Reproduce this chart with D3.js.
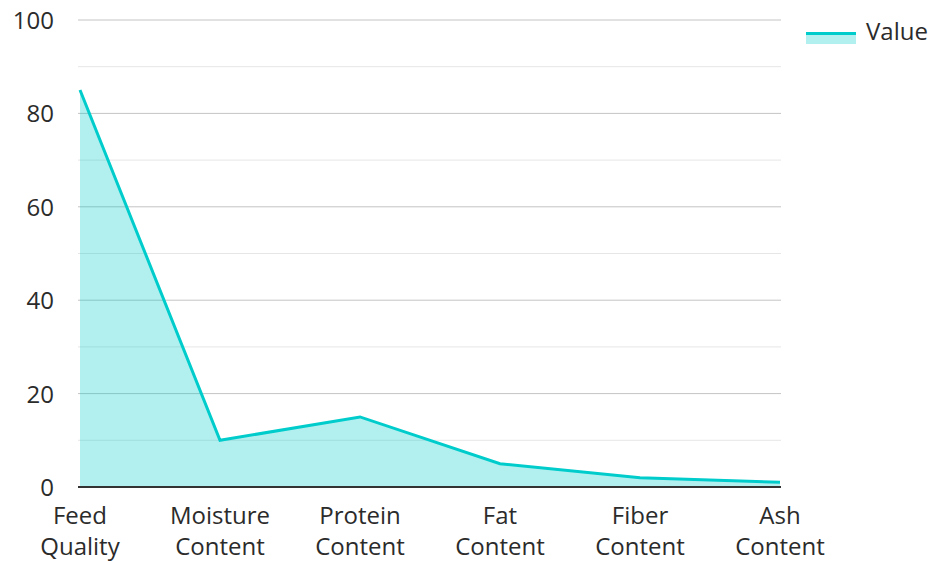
<!DOCTYPE html>
<meta charset="utf-8">
<style>
body { margin: 0; background: #fff; }
svg text { font-family: 'Open Sans', 'Noto Sans', sans-serif; fill: #2b2b2b; }
.axis .domain { display: none; }
.axis line { display: none; }
</style>
<body>
<script src="https://cdn.jsdelivr.net/npm/d3@7"></script>
<script>
var categories = [['Feed', 'Quality'], ['Moisture', 'Content'], ['Protein', 'Content'], ['Fat', 'Content'], ['Fiber', 'Content'], ['Ash', 'Content']]
var values = [85, 10, 15, 5, 2, 1]
var yTicks = [0, 20, 40, 60, 80, 100]
var seriesName = 'Value'

var W = 931, H = 561
var x0 = 80, x1 = 780, yTop = 20, yBot = 487
var fs = '24px'

var svg = d3.select('body').append('svg')
    .attr('width', W).attr('height', H)

var x = d3.scalePoint()
    .domain(d3.range(categories.length))
    .range([x0, x1])

var y = d3.scaleLinear()
    .domain([0, 100])
    .range([yBot, yTop])

// minor grid
svg.append('g').selectAll('line')
    .data(d3.range(10, 100, 20))
    .join('line')
    .attr('x1', x0 - 2).attr('x2', x1 + 1)
    .attr('y1', function (d) { return y(d) }).attr('y2', function (d) { return y(d) })
    .attr('stroke', '#e6e6e6').attr('stroke-width', 1)

// major grid
svg.append('g').selectAll('line')
    .data(yTicks.filter(function (d) { return d > 0 }))
    .join('line')
    .attr('x1', x0 - 2).attr('x2', x1 + 1)
    .attr('y1', function (d) { return y(d) }).attr('y2', function (d) { return y(d) })
    .attr('stroke', '#c4c4c4').attr('stroke-width', 1)

var area = d3.area()
    .x(function (d, i) { return x(i) })
    .y0(y(0))
    .y1(function (d) { return y(d) })

var line = d3.line()
    .x(function (d, i) { return x(i) })
    .y(function (d) { return y(d) })

svg.append('path')
    .datum(values)
    .attr('d', area)
    .attr('fill', '#00cccc')
    .attr('fill-opacity', 0.3)

svg.append('path')
    .datum(values)
    .attr('d', line)
    .attr('fill', 'none')
    .attr('stroke', '#00cccc')
    .attr('stroke-width', 3)

// baseline
svg.append('line')
    .attr('x1', x0 - 2).attr('x2', x1 + 1)
    .attr('y1', y(0)).attr('y2', y(0))
    .attr('stroke', '#333').attr('stroke-width', 2)

// y axis
var gy = svg.append('g')
    .attr('class', 'axis')
    .attr('transform', 'translate(' + (x0 - 26) + ',0)')
    .call(d3.axisLeft(y).tickValues(yTicks).tickSize(0).tickPadding(0))
gy.selectAll('text')
    .style('font-size', fs)
    .attr('dy', '0.35em')

// x axis labels
var gx = svg.append('g')
    .selectAll('text')
    .data(categories)
    .join('text')
    .attr('x', function (d, i) { return x(i) })
    .attr('y', 524)
    .attr('text-anchor', 'middle')
    .style('font-size', fs)
gx.selectAll('tspan')
    .data(function (d) { return d })
    .join('tspan')
    .attr('x', function () { return d3.select(this.parentNode).attr('x') })
    .attr('dy', function (d, i) { return i === 0 ? 0 : 31 })
    .text(function (d) { return d })

// legend
var lg = svg.append('g').attr('transform', 'translate(806,32)')
lg.append('rect')
    .attr('x', 0).attr('y', 0).attr('width', 50).attr('height', 12)
    .attr('fill', '#00cccc').attr('fill-opacity', 0.3)
lg.append('line')
    .attr('x1', 0).attr('x2', 50).attr('y1', 1.5).attr('y2', 1.5)
    .attr('stroke', '#00cccc').attr('stroke-width', 3)
lg.append('text')
    .attr('x', 60).attr('y', 0)
    .attr('dy', '0.35em')
    .style('font-size', fs)
    .text(seriesName)
</script>
</body>
